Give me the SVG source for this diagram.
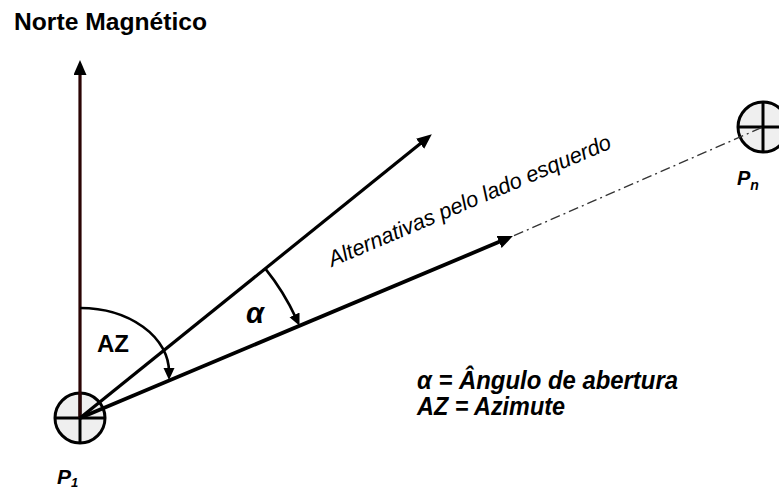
<svg xmlns="http://www.w3.org/2000/svg" width="779" height="491" viewBox="0 0 779 491">
<style>
.bg{fill:#ffffff}
.pt circle{fill:#efefef;stroke:#000;stroke-width:3}
.pt line{stroke:#000;stroke-width:3}
.arr{fill:none;stroke:#000;stroke-width:3.2}
.arc{fill:none;stroke:#000;stroke-width:2.6}
.dd{fill:none;stroke:#333;stroke-width:1.3;stroke-dasharray:10 4 2 4}
text{font-family:"Liberation Sans",Arial,sans-serif;fill:#000}
.b{font-weight:bold}
.bi{font-weight:bold;font-style:italic}
.i{font-style:italic}
</style>
<defs>
<marker id="ah" markerUnits="userSpaceOnUse" markerWidth="16" markerHeight="14" refX="6" refY="6.5" orient="auto">
<path d="M0,0 L15,6.5 L0,13 Z" fill="#000"/>
</marker>
<marker id="ahs" markerUnits="userSpaceOnUse" markerWidth="14" markerHeight="12" refX="4" refY="5.5" orient="auto">
<path d="M0,0 L12,5.5 L0,11 Z" fill="#000"/>
</marker>
</defs>
<rect class="bg" x="0" y="0" width="779" height="491"/>

<g id="p1" class="pt">
<circle cx="80" cy="418" r="25"/>
<line x1="55" y1="418" x2="105" y2="418"/>
<line x1="80" y1="393" x2="80" y2="443"/>
</g>
<g id="pn" class="pt">
<circle cx="763" cy="127" r="25"/>
<line x1="738" y1="127" x2="788" y2="127"/>
<line x1="763" y1="102" x2="763" y2="152"/>
</g>

<g id="connectors">
<path d="M80,418 L80,69" class="arr" style="stroke:#2b0505" marker-end="url(#ah)"/>
<path d="M80,418 L424.8,140" class="arr" marker-end="url(#ah)"/>
<path d="M80,418 L504.6,239.6" class="arr" style="stroke-width:3.8" marker-end="url(#ah)"/>
<path d="M514,235.7 L763,127" class="dd"/>
<path d="M80,308 A89,64 0 0 1 169,372" class="arc" marker-end="url(#ahs)"/>
<path d="M265.3,268.6 A238,238 0 0 1 296.2,318.5" class="arc" marker-end="url(#ahs)"/>
</g>

<g id="labels">
<text x="14" y="30" class="b" font-size="24" textLength="193" lengthAdjust="spacingAndGlyphs">Norte Magnético</text>
<text x="97" y="352" class="b" font-size="24">AZ</text>
<text x="246" y="323" class="bi" font-size="29">α</text>
<text transform="translate(332,267) rotate(-23)" class="i" font-size="22" textLength="305" lengthAdjust="spacingAndGlyphs">Alternativas pelo lado esquerdo</text>
<text x="417" y="389" class="bi" font-size="25" textLength="261" lengthAdjust="spacingAndGlyphs">α = Ângulo de abertura</text>
<text x="417" y="415" class="bi" font-size="25" textLength="148" lengthAdjust="spacingAndGlyphs">AZ = Azimute</text>
<text x="57" y="484" class="bi" font-size="21">P<tspan font-size="13" dy="3">1</tspan></text>
<text x="737" y="185" class="bi" font-size="20">P<tspan font-size="14" dy="5">n</tspan></text>
</g>
</svg>
